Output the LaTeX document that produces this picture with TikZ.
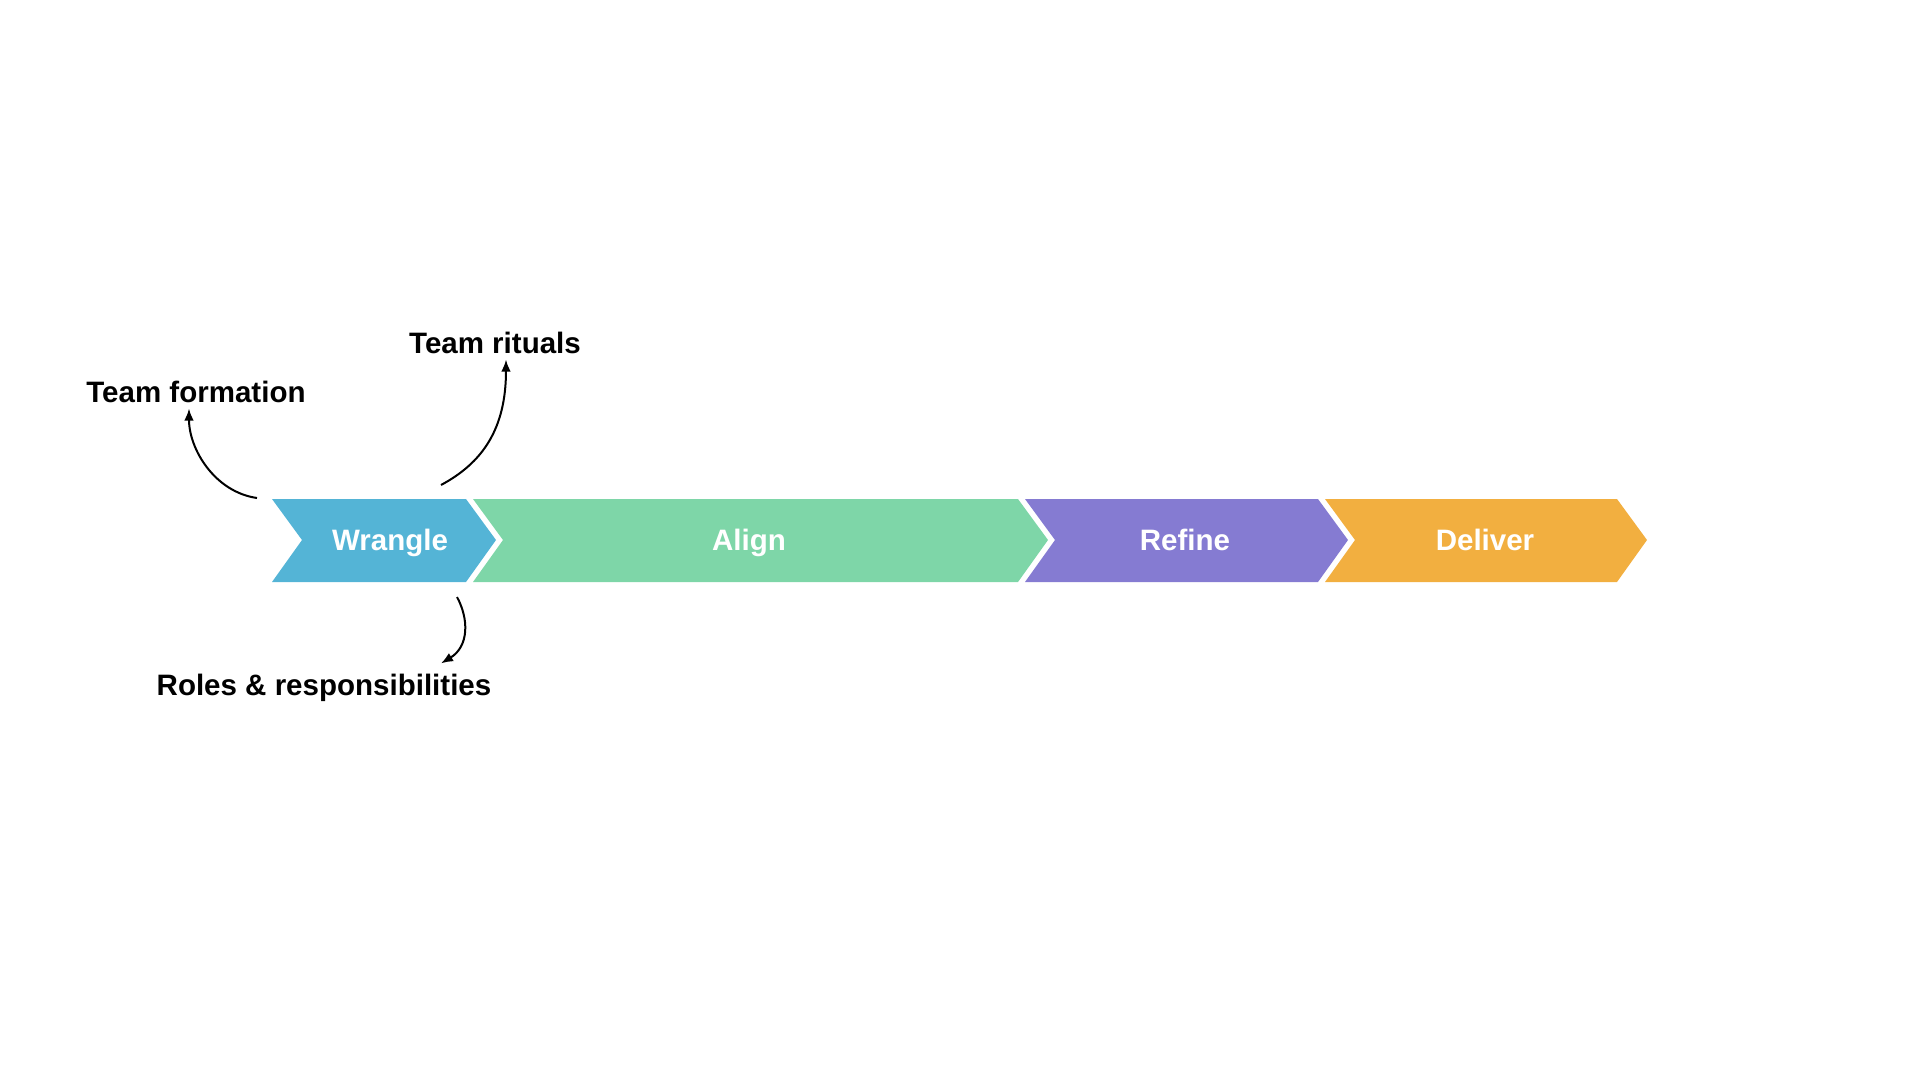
\documentclass[tikz,border=0pt]{standalone}
\usepackage{fontspec}
\setmainfont{Liberation Sans}
\usepackage{xcolor}
\usetikzlibrary{arrows.meta, positioning, calc}
\definecolor{wrangleblue}{HTML}{54B4D6}
\definecolor{aligngreen}{HTML}{7ED6A8}
\definecolor{refinepurple}{HTML}{857BD2}
\definecolor{deliverorange}{HTML}{F2AF40}

\tikzset{
    phasetext/.style={text=white, font=\fontsize{16.8}{20}\selectfont\bfseries, anchor=base},
    calloutlabel/.style={text=black, font=\fontsize{16.8}{20}\selectfont\bfseries, anchor=base},
    calloutarrow/.style={-{Latex[length=0.24cm, width=0.19cm]}, line width=0.04cm, black}
}

\begin{document}
\begin{tikzpicture}[x=0.02cm, y=-0.02cm]
    \useasboundingbox (0,0) rectangle (1920,1080);

    % Phase chevrons
    \fill[wrangleblue] (272,499) -- (466,499) -- (496,540) -- (466,582) -- (272,582) -- (302,540) -- cycle;
    \fill[aligngreen] (473,499) -- (1018,499) -- (1048,540) -- (1018,582) -- (473,582) -- (503,540) -- cycle;
    \fill[refinepurple] (1025,499) -- (1318,499) -- (1348,540) -- (1318,582) -- (1025,582) -- (1055,540) -- cycle;
    \fill[deliverorange] (1325,499) -- (1617,499) -- (1647,540) -- (1617,582) -- (1325,582) -- (1355,540) -- cycle;

    \node[phasetext] (wrangle) at (390, 550) {Wrangle};
    \node[phasetext] (align) at (749, 550) {Align};
    \node[phasetext] (refine) at (1185, 550) {Refine};
    \node[phasetext] (deliver) at (1485, 550) {Deliver};

    % Callouts
    \node[calloutlabel] (formation) at (196, 402) {Team formation};
    \node[calloutlabel] (rituals) at (495, 353) {Team rituals};
    \node[calloutlabel] (roles) at (324, 695) {Roles \& responsibilities};

    \coordinate (formationstart) at (257, 498);
    \coordinate (ritualsstart) at (441, 485);
    \coordinate (rolesstart) at (457, 597);

    \draw[calloutarrow] (formationstart) .. controls +(-42,-6) and +(0,41) .. ($(formation.south)+(-7,0)$);
    \draw[calloutarrow] (ritualsstart) .. controls +(41,-22) and +(0,70) .. ($(rituals.south)+(11,0)$);
    \draw[calloutarrow] (rolesstart) .. controls +(12,22) and +(28,-17) .. ($(roles.north)+(117,-4)$);
\end{tikzpicture}
\end{document}
